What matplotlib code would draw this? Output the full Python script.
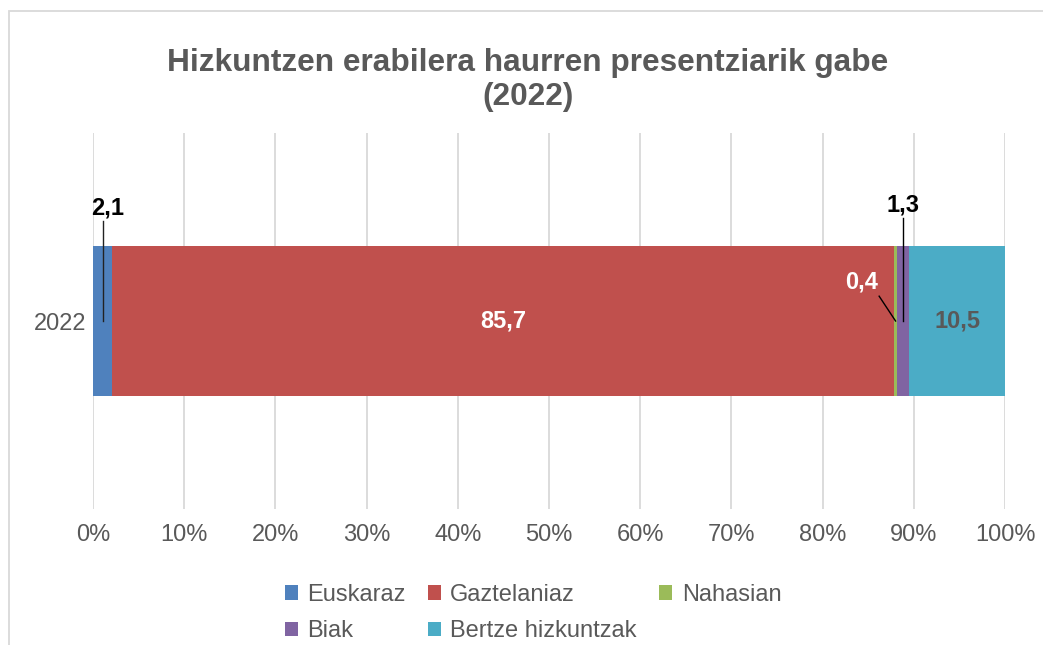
import matplotlib.pyplot as plt
import matplotlib.ticker as ticker
from matplotlib.patches import Rectangle

plt.rcParams['font.family'] = ['Liberation Sans', 'DejaVu Sans']

year = '2022'
series = ['Euskaraz', 'Gaztelaniaz', 'Nahasian', 'Biak', 'Bertze hizkuntzak']
values = [2.1, 85.7, 0.4, 1.3, 10.5]
colors = ['#4F81BD', '#C0504D', '#9BBB59', '#8064A2', '#4BACC6']
title = 'Hizkuntzen erabilera haurren presentziarik gabe\n(2022)'

text_gray = '#595959'
grid_gray = '#D9D9D9'

fig = plt.figure(figsize=(10.43, 6.45), dpi=100)
ax = fig.add_axes([93 / 1043, 1 - 509 / 645, 912 / 1043, 376 / 645])

# chart area outline
fig.patches.append(Rectangle((9 / 1043, -0.1), 1.2, 1.1 - 11 / 645, transform=fig.transFigure,
                             fill=False, edgecolor=grid_gray, linewidth=1.3))

bars = []
left = 0
for name, val, col in zip(series, values, colors):
    b = ax.barh([0], [val], left=left, height=0.4, color=col, label=name, zorder=3)
    bars.append(b)
    left += val

ax.set_xlim(0, 100)
ax.set_ylim(-0.5, 0.5)
ax.xaxis.set_major_locator(ticker.MultipleLocator(10))
ax.xaxis.set_major_formatter(ticker.FuncFormatter(lambda x, p: f'{int(x)}%'))
ax.set_yticks([0])
ax.set_yticklabels([year])
ax.tick_params(axis='both', length=0, labelsize=17, labelcolor=text_gray)
ax.tick_params(axis='x', pad=11)
ax.tick_params(axis='y', pad=5)
ax.grid(axis='x', color=grid_gray, linewidth=1.3, zorder=0)
for s in ax.spines.values():
    s.set_visible(False)

# segment centres
starts = [sum(values[:i]) for i in range(len(values))]
mids = [s + v / 2 for s, v in zip(starts, values)]

def fmt(v):
    return f'{v:.1f}'.replace('.', ',')

# labels inside bar
ax.text(mids[1], 0, fmt(values[1]), ha='center', va='center', color='white',
        fontsize=17, fontweight='bold', zorder=5)
ax.text(mids[4], 0, fmt(values[4]), ha='center', va='center', color=text_gray,
        fontsize=17, fontweight='bold', zorder=5)

# labels with leader lines
ax.plot([mids[0], mids[0]], [0, 0.265], color='#222222', linewidth=1, zorder=4)
ax.text(1.6, 0.30, fmt(values[0]), ha='center', va='center', color='black',
        fontsize=17, fontweight='bold', zorder=5)

ax.plot([mids[2], 86.2], [0, 0.066], color='black', linewidth=1, zorder=4)
ax.text(84.3, 0.104, fmt(values[2]), ha='center', va='center', color='white',
        fontsize=17, fontweight='bold', zorder=5)

ax.plot([mids[3], mids[3]], [0, 0.274], color='black', linewidth=1, zorder=4)
ax.text(mids[3], 0.308, fmt(values[3]), ha='center', va='center', color='black',
        fontsize=17, fontweight='bold', zorder=5)

fig.text(528 / 1043, 1 - 80 / 645, title, ha='center', va='center', color=text_gray,
         fontsize=22.8, fontweight='bold', linespacing=1.2)

order = [0, 3, 1, 4, 2]
handles = [bars[i] for i in order]
labels = [series[i] for i in order]
fig.legend(handles, labels, loc='center', bbox_to_anchor=(533 / 1043, 1 - 613 / 645), ncol=3,
           frameon=False, fontsize=17, labelcolor=text_gray, handlelength=0.55,
           handleheight=0.55, handletextpad=0.4, columnspacing=0.95, labelspacing=0.6,
           borderpad=0.2)

fig.savefig('out.png', dpi=100)
